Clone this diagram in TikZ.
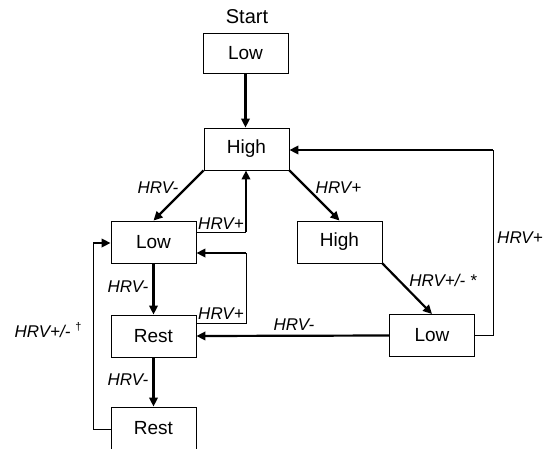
\documentclass[tikz,border=0pt]{standalone}
\usepackage{fontspec}
\setmainfont{Liberation Sans}
\usetikzlibrary{arrows.meta}
\begin{document}
\begin{tikzpicture}[x=1pt,y=-1pt,
  stbox/.style={draw,line width=0.9pt,minimum width=85pt,minimum height=42pt,inner sep=0pt,font=\fontsize{19}{21}\selectfont},
  arr/.style={line width=2.2pt,-{Triangle[length=9pt,width=8.5pt]}},
  thinline/.style={line width=0.9pt},
  lab/.style={font=\fontsize{17}{19}\selectfont\itshape,inner sep=0pt}]
\useasboundingbox (0,0) rectangle (547,448);
\clip (0,0) rectangle (547,448);
\node[font=\fontsize{20}{22}\selectfont] (start) at (247,17) {Start};
\node[stbox,minimum height=40pt] (s) at (245.5,53) {Low};
\node[stbox] (h) at (246.5,149) {High};
\node[stbox] (l1) at (153.5,242) {Low};
\node[stbox] (r1) at (153.5,336) {Rest};
\node[stbox] (r2) at (153.5,428) {Rest};
\node[stbox] (h2) at (339.5,242) {High};
\node[stbox] (l2) at (432,335.5) {Low};
\coordinate (c1) at (246,232);
\coordinate (c2) at (246,323);
\coordinate (c3) at (246,253);
\coordinate (c4) at (93,429);
\coordinate (c5) at (93,243);
\coordinate (c6) at (493,335);
\coordinate (c7) at (493,150);
% arrows
\draw[arr] (s.south) -- (s.south |- h.north);
\draw[arr] (h.south west) -- (l1.north);
\draw[thinline] (l1.east |- c1) -- (c1);
\draw[arr] (c1) -- (c1 |- h.south);
\draw[arr] (l1.south) -- (r1.north);
\draw[thinline] (r1.east |- c2) -- (c2) -- (c3);
\draw[arr] (c3) -- (l1.east |- c3);
\draw[arr] (r1.south) -- (r2.north);
\draw[thinline] (r2.west |- c4) -- (c4) -- (c5);
\draw[arr] (c5) -- (l1.west |- c5);
\draw[arr] (h.south east) -- (h2.north);
\draw[arr] (h2.south east) -- (l2.north);
\draw[arr] (l2.west) -- (r1.east);
\draw[thinline] (l2.east |- c6) -- (c6) -- (c7);
\draw[arr] (c7) -- (h.east |- c7);
% labels
\node[lab] (t1) at (158,188) {HRV-};
\node[lab] (t2) at (221,224) {HRV+};
\node[lab] (t3) at (128,287) {HRV-};
\node[lab] (t4) at (221,314) {HRV+};
\node[lab] (t5) at (128,380) {HRV-};
\node[lab] (t6) at (48,330) {HRV+/- \raisebox{0.45em}{\fontsize{11}{12}\selectfont\textup{†}}};
\node[lab] (t7) at (338.5,188) {HRV+};
\node[lab] (t8) at (443,280) {HRV+/- *};
\node[lab] (t9) at (294,325) {HRV-};
\node[lab] (t10) at (520,238) {HRV+};
\end{tikzpicture}
\end{document}
